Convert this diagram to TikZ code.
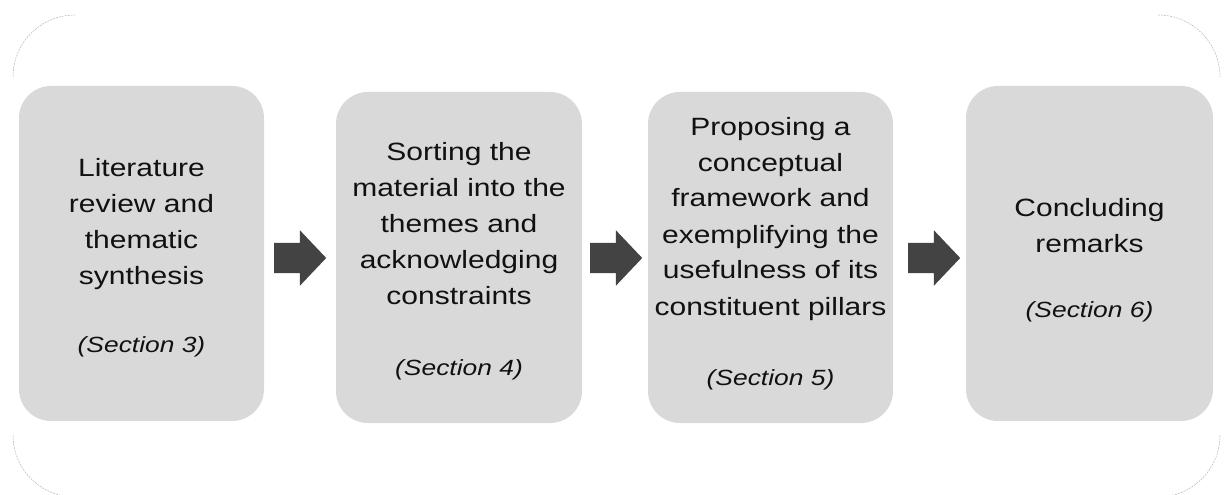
\documentclass[tikz,border=0pt]{standalone}
\usepackage{fontspec}
\setmainfont{Liberation Sans}[FakeStretch=1.2]
\usetikzlibrary{shapes.arrows}
\definecolor{boxgray}{HTML}{D9D9D9}
\definecolor{arrowgray}{HTML}{434343}
\definecolor{framegray}{HTML}{B4B4B4}
\definecolor{textc}{HTML}{111111}
\begin{document}
\begin{tikzpicture}[x=1pt,y=-1pt,
  stepbox/.style={fill=boxgray, rounded corners=32pt, inner sep=0pt},
  titletext/.style={anchor=base, align=center, text width=262pt, inner sep=0pt,
    text=textc, font=\fontsize{25}{36}\selectfont},
  sectext/.style={anchor=base, inner sep=0pt, text=textc,
    font=\itshape\fontsize{22}{26}\selectfont},
  blockarrow/.style={single arrow, fill=arrowgray, inner xsep=0pt, inner ysep=15pt,
    minimum height=52pt, anchor=tail,
    single arrow head extend=12.5pt, single arrow tip angle=93},
  framearc/.style={draw=framegray, line width=0.5pt, dash pattern=on 2pt off 1pt}]
\useasboundingbox (0,0) rectangle (1224,495);
% faint outer frame corners
\draw[framearc] (13,77) arc[start angle=180, end angle=270, radius=62];
\draw[framearc] (1158,15) arc[start angle=270, end angle=360, radius=62];
\draw[framearc] (1220,435) arc[start angle=0, end angle=90, radius=62];
\draw[framearc] (13,435) arc[start angle=180, end angle=90, radius=62];
% boxes
\node[stepbox, minimum width=245pt, minimum height=335pt] (b1) at (141.5,253.5) {};
\node[stepbox, minimum width=246pt, minimum height=331pt] (b2) at (459,257.5) {};
\node[stepbox, minimum width=245pt, minimum height=331pt] (b3) at (770.5,257.5) {};
\node[stepbox, minimum width=247pt, minimum height=335pt] (b4) at (1089.5,253.5) {};
% titles
\node[titletext] (t1) at (141.5,176) {Literature\\review and\\thematic\\synthesis};
\node[titletext] (t2) at (459,160) {Sorting the\\material into the\\themes and\\acknowledging\\constraints};
\node[titletext] (t3) at (770.5,135) {Proposing a\\conceptual\\framework and\\exemplifying the\\usefulness of its\\constituent pillars};
\node[titletext] (t4) at (1089.5,216) {Concluding\\remarks};
% sections
\node[sectext] (s1) at (141.5,352) {(Section 3)};
\node[sectext] (s2) at (459,375) {(Section 4)};
\node[sectext] (s3) at (770.5,385) {(Section 5)};
\node[sectext] (s4) at (1089.5,317) {(Section 6)};
% arrows
\node[blockarrow] (a1) at (274,258) {};
\node[blockarrow] (a2) at (590,258) {};
\node[blockarrow] (a3) at (908,258) {};
\end{tikzpicture}
\end{document}
